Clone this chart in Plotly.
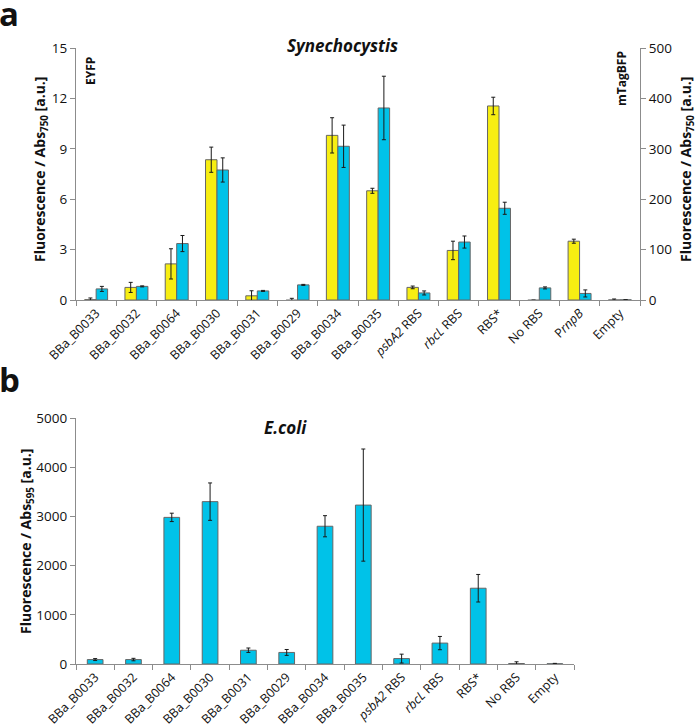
import plotly.graph_objects as go

cats_top = ["BBa_B0033", "BBa_B0032", "BBa_B0064", "BBa_B0030", "BBa_B0031", "BBa_B0029",
            "BBa_B0034", "BBa_B0035", "<i>psbA2</i> RBS", "<i>rbcL</i> RBS", "RBS*", "No RBS",
            "P<i>rnpB</i>", "Empty"]
eyfp = [0.02, 0.75, 2.15, 8.35, 0.25, -0.05, 9.8, 6.5, 0.75, 2.95, 11.55, -0.05, 3.5, 0.0]
eyfp_err = [0.1, 0.3, 0.9, 0.75, 0.3, 0.15, 1.05, 0.15, 0.08, 0.55, 0.52, 0.05, 0.12, 0.06]
bfp = [22, 27, 112, 258, 18, 30, 305, 381, 14, 115, 182, 24, 13, 0.3]
bfp_err = [5, 1, 16, 24, 1, 1, 42, 63, 4, 12, 12, 2, 7, 0]

cats_bot = ["BBa_B0033", "BBa_B0032", "BBa_B0064", "BBa_B0030", "BBa_B0031", "BBa_B0029",
            "BBa_B0034", "BBa_B0035", "<i>psbA2</i> RBS", "<i>rbcL</i> RBS", "RBS*", "No RBS",
            "Empty"]
ecoli = [90, 90, 2980, 3300, 280, 235, 2800, 3230, 110, 425, 1540, 10, 5]
ecoli_err = [20, 25, 85, 380, 45, 60, 215, 1140, 90, 135, 280, 35, 8]

left_ticks = [0, 3, 6, 9, 12, 15]
right_ticks = [0, 100, 200, 300, 400, 500]
bot_ticks = [0, 1000, 2000, 3000, 4000, 5000]

YELLOW = "#F7EE12"
BLUE = "#00C2E8"
EDGE = "#666666"
AX = "#8c8c8c"
FONT = "Open Sans"
W, H = 697, 726

def err(vals, c="#1a1a1a"):
    return dict(type="data", array=vals, visible=True, color=c, thickness=1, width=2)

fig = go.Figure()
bw = 0.285
fig.add_trace(go.Bar(x=cats_top, y=eyfp, width=bw, offset=-bw, marker=dict(color=YELLOW, line=dict(color=EDGE, width=1)),
                     error_y=err(eyfp_err), xaxis="x", yaxis="y", cliponaxis=False, showlegend=False))
fig.add_trace(go.Bar(x=cats_top, y=bfp, width=bw, offset=0, marker=dict(color=BLUE, line=dict(color=EDGE, width=1)),
                     error_y=err(bfp_err), xaxis="x", yaxis="y2", cliponaxis=False, showlegend=False))
fig.add_trace(go.Bar(x=cats_bot, y=ecoli, width=0.41, marker=dict(color=BLUE, line=dict(color=EDGE, width=1)),
                     error_y=err(ecoli_err), xaxis="x2", yaxis="y3", cliponaxis=False, showlegend=False))

def px_x(a, b):
    return [a / W, b / W]

def px_y(top, bot):
    return [1 - bot / H, 1 - top / H]

tickfont = dict(family=FONT, size=13.5, color="#111")
xtickfont = dict(family=FONT, size=12.5, color="#111")

common_x = dict(type="category", showline=True, linecolor=AX, linewidth=1.2, ticks="outside",
                tickson="boundaries", ticklen=5, tickcolor=AX, tickangle=-45, tickfont=xtickfont,
                showgrid=False, zeroline=False, automargin=False)
common_y = dict(showline=True, linecolor=AX, linewidth=1.2, ticks="outside", ticklen=5, tickcolor=AX,
                tickfont=tickfont, showgrid=False, zeroline=False, automargin=False)

fig.update_layout(
    template="none",
    width=W, height=H, margin=dict(l=0, r=0, t=0, b=0, autoexpand=False),
    paper_bgcolor="white", plot_bgcolor="white",
    barmode="overlay",
    xaxis=dict(domain=px_x(76, 640), range=[-0.5, 13.5], anchor="y", **common_x),
    yaxis=dict(domain=px_y(48, 300), range=[0, 15], tickvals=left_ticks, anchor="x", **common_y),
    yaxis2=dict(range=[0, 500], tickvals=right_ticks, overlaying="y", side="right", anchor="x", **common_y),
    xaxis2=dict(domain=px_x(76, 574), range=[-0.5, 12.5], anchor="y3", **common_x),
    yaxis3=dict(domain=px_y(418, 664), range=[0, 5000], tickvals=bot_ticks, anchor="x2", **common_y),
)

def ann(text, x, y, size, angle=0, bold=True, italic=False, xanchor="center", yanchor="middle"):
    t = text
    if italic:
        t = "<i>" + t + "</i>"
    if bold:
        t = "<b>" + t + "</b>"
    fig.add_annotation(text=t, x=x / W, y=1 - y / H, xref="paper", yref="paper", showarrow=False,
                       textangle=angle, font=dict(family=FONT, size=size, color="#111"),
                       xanchor=xanchor, yanchor=yanchor)

ann("a", 9, 13, 33)
ann("b", 9, 380, 33)
ann("Synechocystis", 342, 46, 17, italic=True)
ann("E.coli", 285, 427, 17, italic=True)
ann("EYFP", 90, 71, 12, angle=-90)
ann("mTagBFP", 621, 79, 12, angle=-90)
ann("Fluorescence / Abs<sub>750</sub> [a.u.]", 40, 170, 14, angle=-90)
ann("Fluorescence / Abs<sub>750</sub> [a.u.]", 686, 170, 14, angle=-90)
ann("Fluorescence / Abs<sub>595</sub> [a.u.]", 26, 542, 14, angle=-90)

fig.write_html("out.html", config={"displayModeBar": False},
               post_script="document.body.style.margin='0';document.body.style.overflow='hidden';")
